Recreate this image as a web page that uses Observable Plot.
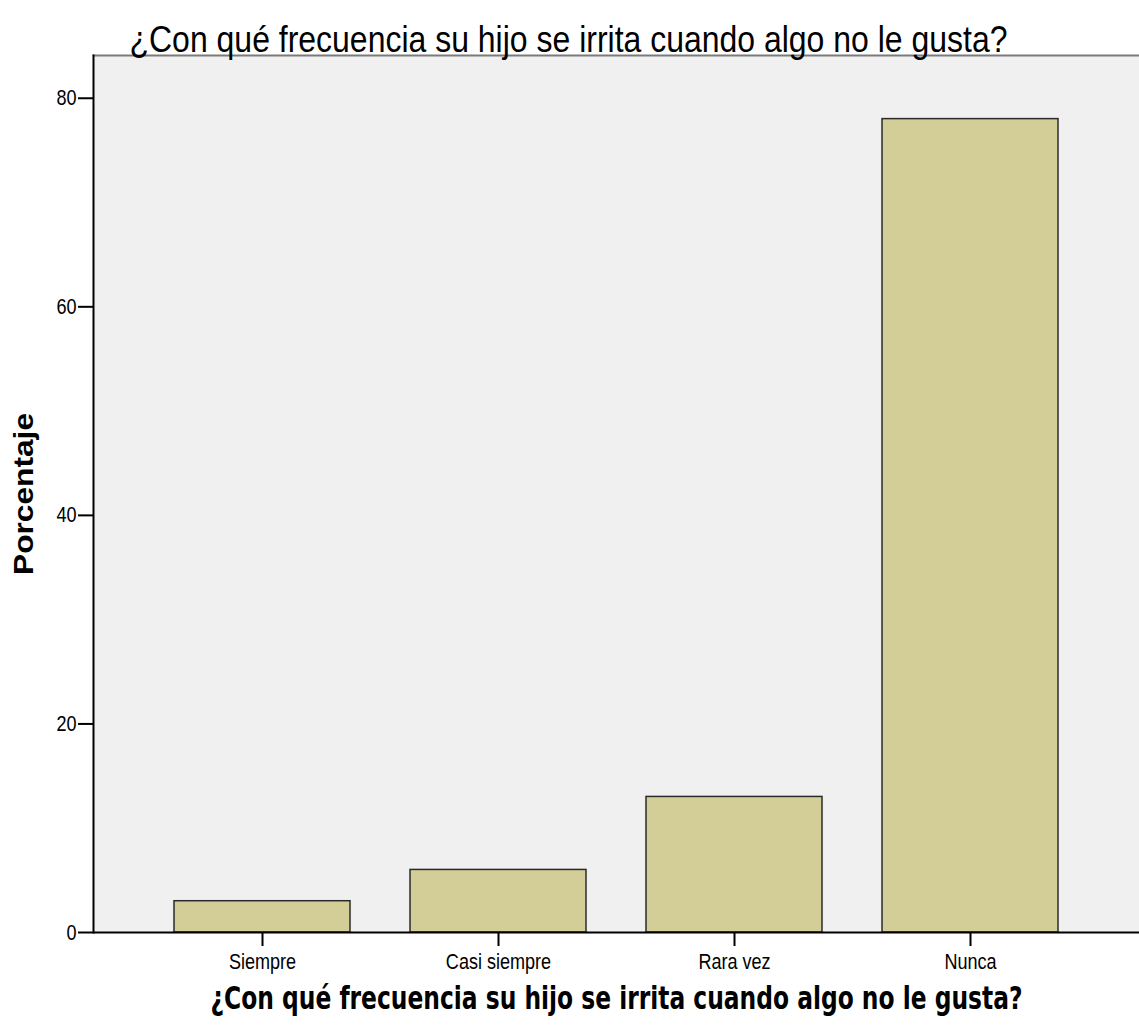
<!DOCTYPE html>
<html>
<head>
<meta charset="utf-8">
<script src="https://cdn.jsdelivr.net/npm/d3@7"></script>
<script src="https://cdn.jsdelivr.net/npm/@observablehq/plot@0.6"></script>
<style>
  html, body { margin: 0; padding: 0; background: #fff; }
  #chart svg { display: block; }
</style>
</head>
<body>
<div id="chart"></div>
<script>
const categories = ["Siempre", "Casi siempre", "Rara vez", "Nunca"];
const percentages = [3, 6, 13, 78];
const yTicks = [0, 20, 40, 60, 80];
const titleText = "¿Con qué frecuencia su hijo se irrita cuando algo no le gusta?";
const xLabelText = "¿Con qué frecuencia su hijo se irrita cuando algo no le gusta?";
const yLabelText = "Porcentaje";

const data = categories.map((c, i) => ({category: c, pct: percentages[i]}));

const sans = "'Liberation Sans', Arial, sans-serif";

const chart = Plot.plot({
  width: 1139,
  height: 1029,
  marginLeft: 93,
  marginRight: 0,
  marginTop: 55,
  marginBottom: 97,
  style: {background: "#fff", fontFamily: sans, fontSize: "22px", color: "#000", overflow: "visible"},
  x: {domain: categories, paddingInner: 0.256, paddingOuter: 0.34, align: 0.5, label: null},
  y: {domain: [0, 84.1], label: null},
  marks: [
    Plot.frame({fill: "#f0f0f0", stroke: null}),
    Plot.frame({anchor: "top", stroke: "#7a7a7a", strokeWidth: 2}),
    Plot.barY(data, {x: "category", y: "pct", fill: "#d3ce97", stroke: "#2a2a2a", strokeWidth: 1.5}),
    Plot.frame({anchor: "left", stroke: "#000", strokeWidth: 2}),
    Plot.ruleY([0], {stroke: "#000", strokeWidth: 2}),
    Plot.axisY({ticks: yTicks, tickSize: 15, tickPadding: 2, strokeWidth: 2, label: null, fontSize: 22}),
    Plot.axisX({tickSize: 14, tickPadding: 7, strokeWidth: 2, label: null, fontSize: 22}),
    Plot.text([titleText], {frameAnchor: "top-left", textAnchor: "start", dx: 36, dy: -29.5, fontSize: 36, fill: "#000"}),
    Plot.text([xLabelText], {frameAnchor: "bottom", textAnchor: "middle", dy: 76, fontSize: 32, fontWeight: "bold", fill: "#000", fontFamily: "'DejaVu Sans Condensed', 'DejaVu Sans', sans-serif"}),
    Plot.text([yLabelText], {frameAnchor: "left", textAnchor: "middle", dx: -69, rotate: -90, fontSize: 28, fontWeight: "bold", fill: "#000", fontFamily: sans})
  ]
});

document.getElementById("chart").appendChild(chart);

// the reference is drawn with horizontally compressed lettering: fit text widths
d3.select(chart).selectAll("text").each(function() {
  const t = this.textContent;
  const g = this.closest("g");
  const fs = g ? g.getAttribute("font-size") : null;
  let target;
  if (t === yLabelText) target = 162;
  else if (t === titleText && fs === "36") target = 878;
  else if (t === xLabelText) target = 812;
  else target = this.getComputedTextLength() * 0.82;
  this.setAttribute("textLength", target);
  this.setAttribute("lengthAdjust", "spacingAndGlyphs");
});
</script>
</body>
</html>
